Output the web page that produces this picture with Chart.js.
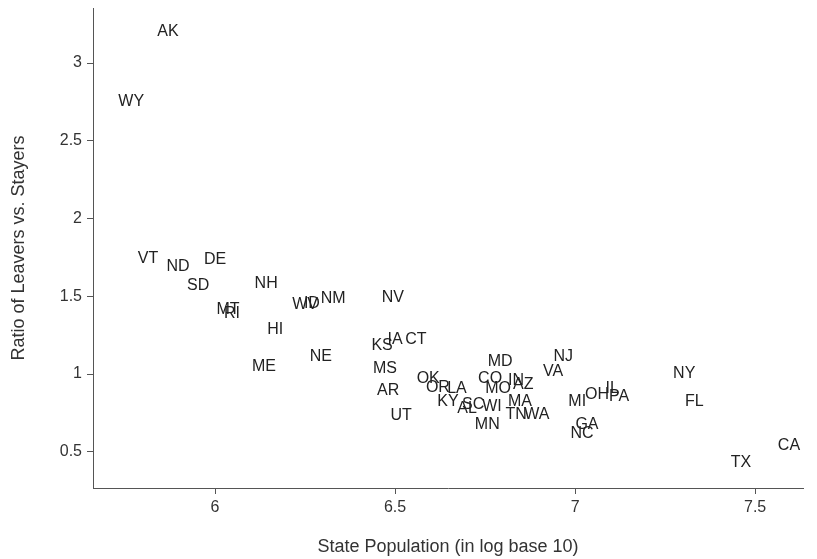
<!DOCTYPE html>
<html>
<head>
<meta charset="utf-8">
<script src="https://cdn.jsdelivr.net/npm/chart.js@4"></script>
<style>
  body { margin: 0; background: #fff; }
  #wrap { width: 817px; height: 559px; }
</style>
</head>
<body>
<div id="wrap"><canvas id="chart"></canvas></div>
<script>
// State abbreviations, log10 population and leavers/stayers ratio
const states = ['AK', 'WY', 'VT', 'ND', 'DE', 'SD', 'NH', 'MT', 'RI', 'WV',
  'ID', 'NM', 'HI', 'ME', 'NE', 'NV', 'KS', 'IA', 'CT', 'MS',
  'AR', 'UT', 'OK', 'OR', 'LA', 'KY', 'SC', 'AL', 'WI', 'MN',
  'MD', 'CO', 'MO', 'IN', 'AZ', 'MA', 'TN', 'WA', 'NJ', 'VA',
  'MI', 'OH', 'IL', 'PA', 'GA', 'NC', 'NY', 'FL', 'TX', 'CA'];

const logPop = [5.869, 5.767, 5.814, 5.897, 6.000, 5.953, 6.142, 6.036, 6.047, 6.250,
  6.269, 6.328, 6.167, 6.136, 6.294, 6.494, 6.464, 6.500, 6.558, 6.472,
  6.481, 6.517, 6.592, 6.619, 6.672, 6.647, 6.717, 6.700, 6.769, 6.756,
  6.792, 6.764, 6.786, 6.836, 6.856, 6.847, 6.836, 6.894, 6.967, 6.939,
  7.006, 7.061, 7.103, 7.122, 7.033, 7.019, 7.303, 7.331, 7.461, 7.594];

const ratio = [3.200, 2.749, 1.740, 1.688, 1.733, 1.566, 1.579, 1.412, 1.386, 1.444,
  1.450, 1.482, 1.283, 1.051, 1.109, 1.489, 1.186, 1.219, 1.219, 1.032,
  0.891, 0.730, 0.968, 0.910, 0.904, 0.820, 0.801, 0.775, 0.788, 0.672,
  1.077, 0.968, 0.904, 0.955, 0.929, 0.820, 0.736, 0.736, 1.109, 1.013,
  0.820, 0.865, 0.904, 0.852, 0.672, 0.614, 1.000, 0.820, 0.428, 0.537];

const xTicks = [6, 6.5, 7, 7.5];
const yTicks = [0.5, 1, 1.5, 2, 2.5, 3];

const FONT = '"Liberation Sans", Arial, Helvetica, sans-serif';

// draw each state's abbreviation in place of a point marker
const stateLabels = {
  id: 'stateLabels',
  afterDatasetsDraw(chart) {
    const ctx = chart.ctx;
    const meta = chart.getDatasetMeta(0);
    ctx.save();
    ctx.font = '16px ' + FONT;
    ctx.fillStyle = '#222';
    ctx.textAlign = 'center';
    ctx.textBaseline = 'middle';
    meta.data.forEach((pt, i) => ctx.fillText(states[i], pt.x, pt.y));
    ctx.restore();
  }
};

const axisGrid = { drawOnChartArea: false, drawTicks: true, tickLength: 6, color: '#555', lineWidth: 1 };

new Chart(document.getElementById('chart'), {
  type: 'scatter',
  data: {
    datasets: [{
      data: logPop.map((x, i) => ({ x: x, y: ratio[i] })),
      pointRadius: 0,
      pointHoverRadius: 0
    }]
  },
  options: {
    responsive: true,
    maintainAspectRatio: false,
    animation: false,
    events: [],
    layout: { padding: { top: 8, right: 14, left: 0, bottom: 0 } },
    plugins: { legend: { display: false }, tooltip: { enabled: false } },
    scales: {
      x: {
        type: 'linear',
        min: 5.661,
        max: 7.633,
        afterBuildTicks: s => { s.ticks = xTicks.map(v => ({ value: v })); },
        afterFit: s => { s.height = 71; s.paddingLeft = 0; s.paddingRight = 0; },
        grid: axisGrid,
        border: { display: true, color: '#555', width: 1 },
        ticks: { color: '#333', font: { family: FONT, size: 16 }, padding: 4, maxRotation: 0, callback: v => String(v) },
        title: {
          display: true,
          text: 'State Population (in log base 10)',
          color: '#333',
          font: { family: FONT, size: 18 },
          padding: { top: 0, bottom: 1 }
        }
      },
      y: {
        type: 'linear',
        min: 0.267,
        max: 3.354,
        afterBuildTicks: s => { s.ticks = yTicks.map(v => ({ value: v })); },
        afterFit: s => { s.width = 93; s.paddingTop = 0; s.paddingBottom = 0; },
        grid: axisGrid,
        border: { display: true, color: '#555', width: 1 },
        ticks: { color: '#333', font: { family: FONT, size: 16 }, padding: 5, callback: v => String(v) },
        title: {
          display: true,
          text: 'Ratio of Leavers vs. Stayers',
          color: '#333',
          font: { family: FONT, size: 18 },
          padding: { top: 8, bottom: 8 }
        }
      }
    }
  },
  plugins: [stateLabels]
});
</script>
</body>
</html>
